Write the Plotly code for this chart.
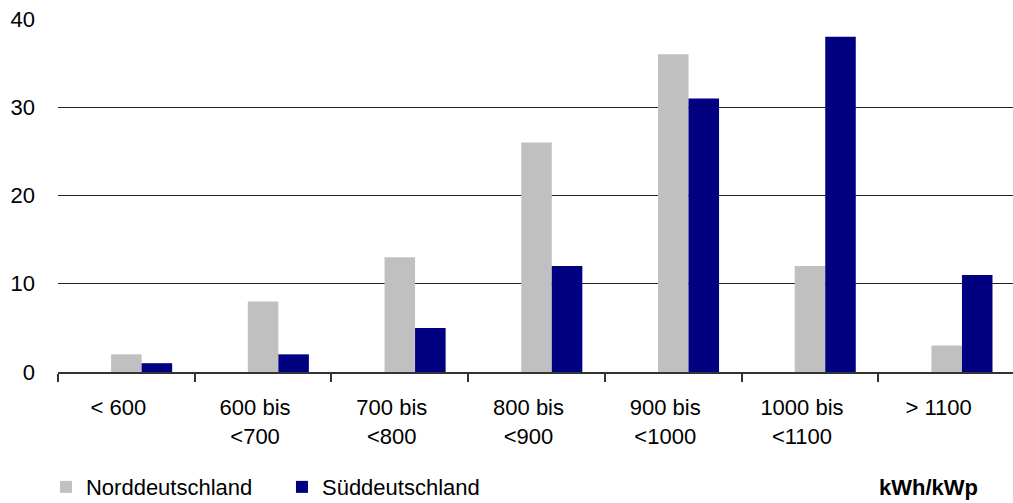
import plotly.graph_objects as go

categories = ["< 600", "600 bis<br><700", "700 bis<br><800", "800 bis<br><900",
              "900 bis<br><1000", "1000 bis<br><1100", "> 1100"]
nord = [2, 8, 13, 26, 36, 12, 3]
sued = [1, 2, 5, 12, 31, 38, 11]
placeholder = [0, 0, 0, 0, 0, 0, 0]
unit_label = "kWh/kWp"

FONT = "Liberation Sans, Arial, sans-serif"

fig = go.Figure()
fig.add_trace(go.Bar(x=categories, y=placeholder, name="", showlegend=False,
                     marker=dict(color="rgba(0,0,0,0)", line=dict(width=0)),
                     hoverinfo="skip"))
fig.add_trace(go.Bar(x=categories, y=nord, name="Norddeutschland",
                     marker=dict(color="#C0C0C0", line=dict(width=0))))
fig.add_trace(go.Bar(x=categories, y=sued, name="Süddeutschland",
                     marker=dict(color="#000080", line=dict(width=0))))

fig.update_layout(
    width=1013, height=503,
    margin=dict(l=58, r=0, t=19, b=131, autoexpand=False),
    paper_bgcolor="white", plot_bgcolor="white",
    barmode="group", bargap=0.33, bargroupgap=0,
    font=dict(family=FONT, size=22, color="black"),
    showlegend=True,
    legend=dict(orientation="h", x=-0.0126, xanchor="left", y=-0.326, yanchor="middle",
                font=dict(family=FONT, size=22, color="black"),
                entrywidth=191, entrywidthmode="pixels",
                bgcolor="rgba(0,0,0,0)", borderwidth=0, traceorder="normal"),
    annotations=[dict(text="<b>" + unit_label + "</b>", xref="paper", yref="paper",
                      x=0.912, y=-0.326, xanchor="center", yanchor="middle",
                      showarrow=False, font=dict(family=FONT, size=22, color="black"))],
)

fig.update_xaxes(
    type="category", range=[-0.5, 6.485], automargin=False,
    showline=True, linecolor="#333333", linewidth=2,
    ticks="outside", tickson="boundaries", ticklen=8, tickcolor="#333333", tickwidth=2,
    showgrid=False, tickfont=dict(family=FONT, size=22, color="black"),
    ticklabelshift=-8, ticklabelstandoff=15,
)
fig.update_yaxes(
    range=[0, 40], tickvals=[0, 10, 20, 30, 40], automargin=False,
    showgrid=True, gridcolor="#222222", gridwidth=1.3,
    zeroline=False, showline=False, ticks="",
    tickfont=dict(family=FONT, size=22, color="black"),
    ticklabelstandoff=22,
)

fig.write_html("out.html")
